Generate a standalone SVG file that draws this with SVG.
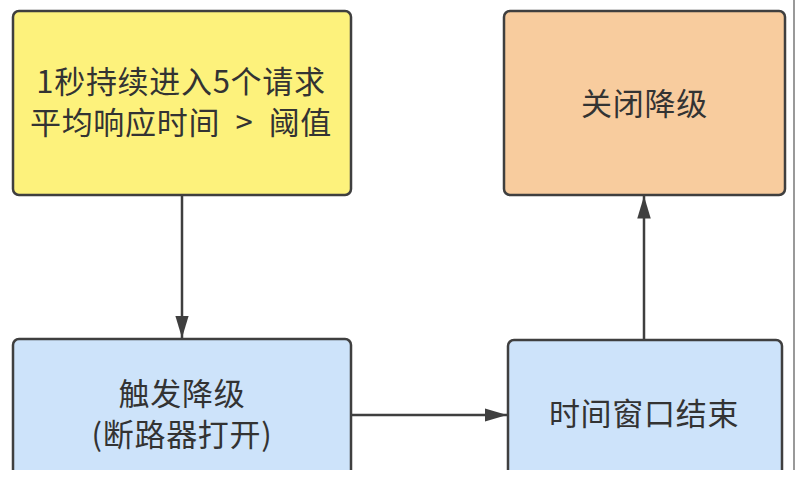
<svg xmlns="http://www.w3.org/2000/svg" width="805" height="497" viewBox="0 0 805 497">
  <style>
    .box { stroke: #3f3f3f; stroke-width: 2.5; }
    .yellow { fill: #fdf27c; }
    .orange { fill: #f8cc9e; }
    .blue { fill: #cde3fa; }
    .label { font-family: "Noto Sans CJK SC", "Noto Sans", sans-serif; font-size: 31px; letter-spacing: 0.7px; fill: #333333; text-anchor: middle; }
    .conn { stroke: #3f3f3f; stroke-width: 2.5; fill: none; }
  </style>
  <defs>
    <marker id="arrow" viewBox="0 0 10 6" refX="10" refY="3" markerWidth="9" markerHeight="6" markerUnits="strokeWidth" orient="auto">
      <path d="M0,0 L10,3 L0,6 Z" fill="#3f3f3f"/>
    </marker>
    <clipPath id="view">
      <rect x="0" y="0" width="805" height="470"/>
    </clipPath>
  </defs>
  <rect x="0" y="0" width="805" height="497" fill="#ffffff"/>
  <g clip-path="url(#view)">
    <g id="node-trigger-condition">
      <rect class="box yellow" x="13" y="11" width="338" height="184" rx="6"/>
      <text class="label" x="181" y="93">1秒持续进入5个请求</text>
      <text class="label" x="181" y="134" xml:space="preserve">平均响应时间  &gt;  阈值</text>
    </g>
    <g id="node-close-degrade">
      <rect class="box orange" x="504" y="11" width="281" height="184" rx="6"/>
      <text class="label" x="644.5" y="115">关闭降级</text>
    </g>
    <g id="node-trigger-degrade">
      <rect class="box blue" x="13" y="339" width="338" height="180" rx="6"/>
      <text class="label" x="182" y="405">触发降级</text>
      <text class="label" x="182" y="446">(断路器打开)</text>
    </g>
    <g id="node-window-end">
      <rect class="box blue" x="508" y="340" width="274" height="180" rx="6"/>
      <text class="label" x="644" y="425">时间窗口结束</text>
    </g>
    <g id="connectors">
      <line class="conn" x1="182" y1="195" x2="182" y2="338" marker-end="url(#arrow)"/>
      <line class="conn" x1="351" y1="415" x2="507" y2="415" marker-end="url(#arrow)"/>
      <line class="conn" x1="644" y1="340" x2="644" y2="196" marker-end="url(#arrow)"/>
    </g>
    <line x1="794" y1="0" x2="794" y2="470" stroke="#777777" stroke-width="1.5"/>
  </g>
</svg>
